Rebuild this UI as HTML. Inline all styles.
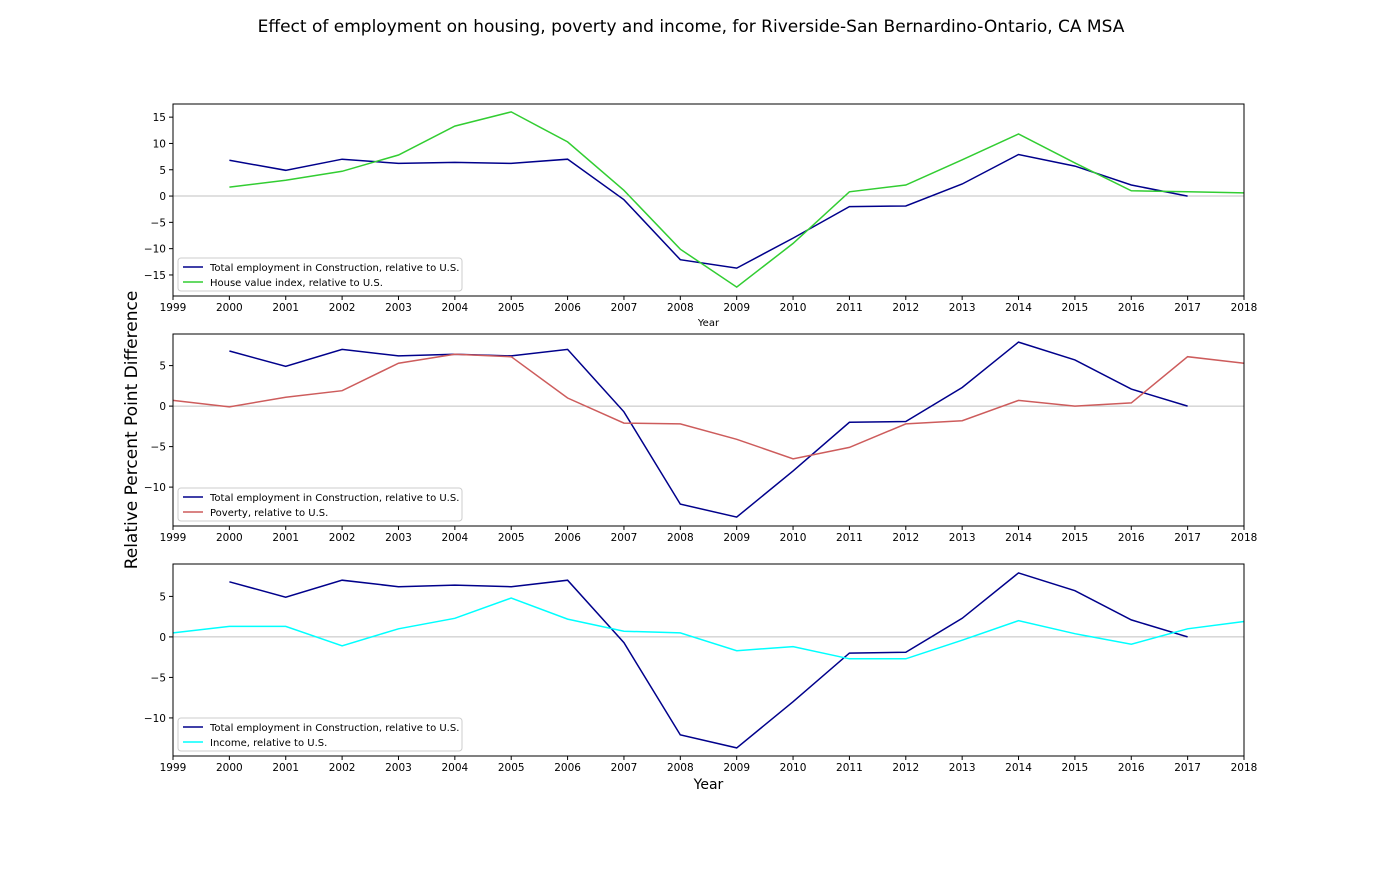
<!DOCTYPE html>
<html><head><meta charset="utf-8"><style>
body{margin:0;background:#fff;font-family:"Liberation Sans","DejaVu Sans",sans-serif}
svg text{font-family:"DejaVu Sans","Liberation Sans",sans-serif}
</style></head><body>
<svg id="c" width="1382" height="864" xmlns="http://www.w3.org/2000/svg">
<text x="691" y="32" text-anchor="middle" font-size="17">Effect of employment on housing, poverty and income, for Riverside-San Bernardino-Ontario, CA MSA</text>
<text transform="translate(137,430) rotate(-90)" text-anchor="middle" font-size="17">Relative Percent Point Difference</text>
</svg>
<script>
const years=[1999,2000,2001,2002,2003,2004,2005,2006,2007,2008,2009,2010,2011,2012,2013,2014,2015,2016,2017,2018];
const construction=[null,6.8,4.9,7.0,6.2,6.4,6.2,7.0,-0.7,-12.1,-13.7,-8.0,-2.0,-1.9,2.3,7.9,5.7,2.1,0.0,null];
const houseValue=[null,1.7,3.0,4.7,7.8,13.3,16.0,10.3,1.1,-10.1,-17.3,-9.0,0.8,2.1,6.9,11.8,6.3,1.0,0.8,0.6];
const poverty=[0.7,-0.1,1.1,1.9,5.3,6.4,6.1,1.0,-2.1,-2.2,-4.1,-6.5,-5.1,-2.2,-1.8,0.7,0.0,0.4,6.1,5.3];
const income=[0.5,1.3,1.3,-1.1,1.0,2.3,4.8,2.2,0.7,0.5,-1.7,-1.2,-2.7,-2.7,-0.4,2.0,0.4,-0.9,1.0,1.9];
const ticks1=[15,10,5,0,-5,-10,-15];
const ticks2=[5,0,-5,-10];
const NS="http://www.w3.org/2000/svg";
const svg=document.getElementById('c');
function mk(t,a,p){const e=document.createElementNS(NS,t);for(const k in a)e.setAttribute(k,a[k]);(p||svg).appendChild(e);return e;}
const X0=173,X1=1244;
const xs=y=>X0+(y-1999)/(2018-1999)*(X1-X0);
const panels=[
 {top:104,bot:296,ymin:-19.0,ymax:17.5,ticks:ticks1,s2:houseValue,c2:'#32cd32',l2:'House value index, relative to U.S.',xl:'small',name:'house'},
 {top:334,bot:526,ymin:-14.8,ymax:8.9,ticks:ticks2,s2:poverty,c2:'#cd5c5c',l2:'Poverty, relative to U.S.',xl:null,name:'poverty'},
 {top:564,bot:756,ymin:-14.7,ymax:9.0,ticks:ticks2,s2:income,c2:'#00ffff',l2:'Income, relative to U.S.',xl:'big',name:'income'}];
panels.forEach((p,i)=>{
 const g=mk('g',{});
 
 
 const ys=v=>p.bot-(v-p.ymin)/(p.ymax-p.ymin)*(p.bot-p.top);
 const z=mk('line',{x1:X0,x2:X1,y1:ys(0),y2:ys(0),stroke:'#c0c0c0','stroke-width':1},g);
 
 
 p.ticks.forEach(t=>{
  mk('line',{x1:X0-4,x2:X0,y1:ys(t),y2:ys(t),stroke:'#000'},g);
  const tx=mk('text',{x:X0-7,y:ys(t)+4,'text-anchor':'end','font-size':10.5},g);
  tx.textContent=t<0?'\u2212'+(-t):t;
  
  
 });
 years.forEach(y=>{
  mk('line',{x1:xs(y),x2:xs(y),y1:p.bot,y2:p.bot+4,stroke:'#000'},g);
  const tx=mk('text',{x:xs(y),y:p.bot+15,'text-anchor':'middle','font-size':10.5},g);
  tx.textContent=y;
  
  
 });
 function line(arr,col,nm){
  let d='';arr.forEach((v,k)=>{if(v===null)return;d+=(d?'L':'M')+xs(years[k]).toFixed(1)+','+ys(v).toFixed(1);});
  const l=mk('path',{d:d,fill:'none',stroke:col,'stroke-width':1.5},g);
  
  
 }
 line(construction,'#00008b','construction-line');
 line(p.s2,p.c2,p.name+'-line');
 const fr=mk('rect',{x:X0,y:p.top,width:X1-X0,height:p.bot-p.top,fill:'none',stroke:'#000','stroke-width':1},g);
 
 
 const lg=mk('g',{},g);
 
 
 const ly=p.bot-38;
 mk('rect',{x:178,y:ly,width:284,height:33,rx:3,fill:'#fff',stroke:'#ccc'},lg);
 [[ '#00008b','Total employment in Construction, relative to U.S.'],[p.c2,p.l2]].forEach((e,k)=>{
  const yy=ly+9+k*15;
  mk('line',{x1:183,x2:203,y1:yy,y2:yy,stroke:e[0],'stroke-width':1.5},lg);
  const tx=mk('text',{x:210,y:yy+4,'font-size':10},lg);
  tx.textContent=e[1];
  
  
 });
 if(p.xl){
  const tx=mk('text',{x:(X0+X1)/2,y:p.xl==='small'?p.bot+30:p.bot+33,'text-anchor':'middle','font-size':p.xl==='small'?10:14},g);
  tx.textContent='Year';
  
  
 }
});
</script>
</body></html>
